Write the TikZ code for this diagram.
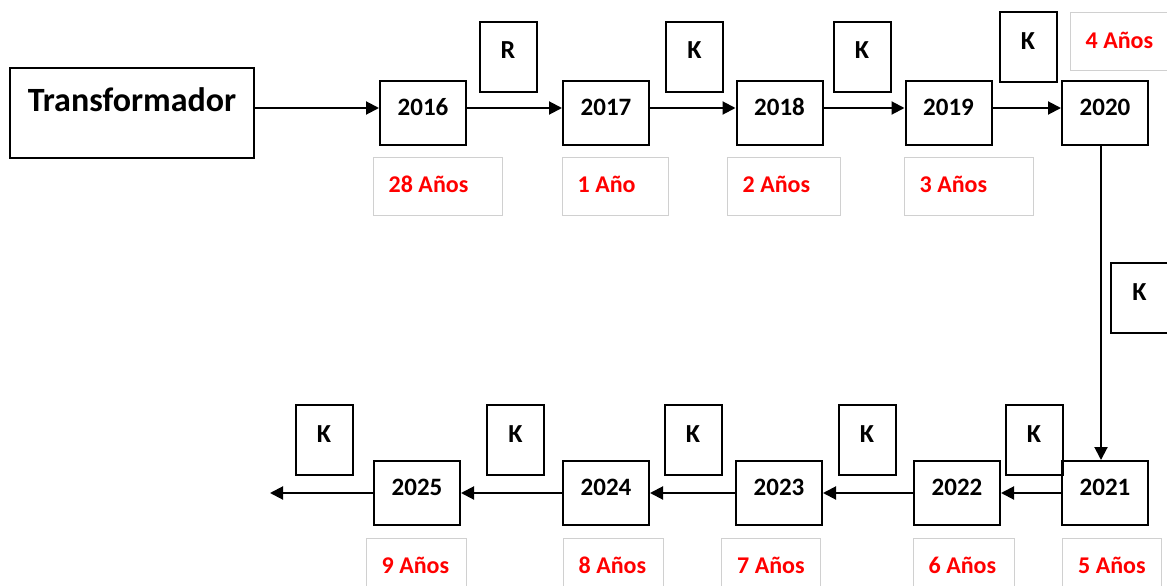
\documentclass[tikz,border=0pt]{standalone}
\usepackage{fontspec}
\setmainfont{Carlito}
\usetikzlibrary{arrows.meta}
\definecolor{agegray}{RGB}{208,208,208}
\definecolor{agered}{RGB}{255,0,0}
\tikzset{
  x=1pt,y=-1pt,
  yearbox/.style={draw=black,line width=2pt,minimum width=86pt,minimum height=64pt,inner sep=0pt,text height=16pt,text depth=12pt,font=\fontsize{25}{29}\selectfont\bfseries},
  kbox/.style={draw=black,line width=2pt,minimum width=57pt,minimum height=70pt,inner sep=0pt,text height=17pt,text depth=13pt,font=\fontsize{26}{30}\selectfont\bfseries},
  agebox/.style={draw=agegray,line width=1pt,minimum height=58pt,inner sep=0pt},
  agelabel/.style={anchor=west,xshift=16pt,yshift=2pt,inner sep=0pt,text=agered,font=\fontsize{24}{28}\selectfont\bfseries},
  arr/.style={line width=2pt,-{Triangle[length=13pt,width=13pt]}}
}
\newcommand{\agenode}[4]{\node[agebox,minimum width=#3pt,label={[agelabel]west:#4}] (#1) at #2 {};}
\begin{document}
\begin{tikzpicture}
\useasboundingbox (0,0) rectangle (1167,586);
\clip (0,0) rectangle (1167,586);
% Transformador
\node[draw=black,line width=2pt,minimum width=244pt,minimum height=89pt,inner sep=0pt,
  label={[font=\fontsize{34}{40}\selectfont\bfseries,yshift=13pt]center:Transformador}] (tr) at (132,113) {};
% year boxes
\node[yearbox] (n2016) at (423,113) {2016};
\node[yearbox] (n2017) at (606,113) {2017};
\node[yearbox] (n2018) at (779.5,113) {2018};
\node[yearbox] (n2019) at (948.5,113) {2019};
\node[yearbox] (n2020) at (1105,113) {2020};
\node[yearbox] (n2021) at (1105,493) {2021};
\node[yearbox] (n2022) at (957,493) {2022};
\node[yearbox] (n2023) at (779,493) {2023};
\node[yearbox] (n2024) at (606,493) {2024};
\node[yearbox] (n2025) at (417,493) {2025};
% K / R boxes
\node[kbox] (r1) at (508,57) {R};
\node[kbox] (k1) at (694.5,57) {K};
\node[kbox] (k2) at (862,57) {K};
\node[kbox] (k3) at (1028,47) {K};
\node[kbox] (k4) at (1139.5,298) {K};
\node[kbox] (k5) at (1034,440) {K};
\node[kbox] (k6) at (867,440) {K};
\node[kbox] (k7) at (693,440) {K};
\node[kbox] (k8) at (515.5,440) {K};
\node[kbox] (k9) at (324,440) {K};
% age boxes
\agenode{a28}{(437.5,186)}{129}{28 Años}
\agenode{a1}{(615,186)}{106}{1 Año}
\agenode{a2}{(783.5,186)}{113}{2 Años}
\agenode{a3}{(968.5,186)}{129}{3 Años}
\agenode{a4}{(1125,42)}{110}{4 Años}
\agenode{a5}{(1112,567)}{99}{5 Años}
\agenode{a6}{(963.5,567)}{101}{6 Años}
\agenode{a7}{(771,567)}{99}{7 Años}
\agenode{a8}{(613,567)}{100}{8 Años}
\agenode{a9}{(416,567)}{100}{9 Años}
% connectors
\coordinate (end) at (270,493);
\draw[arr] ([yshift=5pt]tr.east) -- ([yshift=5pt]n2016.west);
\draw[arr] ([yshift=5pt]n2016.east) -- ([yshift=5pt]n2017.west);
\draw[arr] ([yshift=5pt]n2017.east) -- ([yshift=5pt]n2018.west);
\draw[arr] ([yshift=5pt]n2018.east) -- ([yshift=5pt]n2019.west);
\draw[arr] ([yshift=5pt]n2019.east) -- ([yshift=5pt]n2020.west);
\draw[arr] ([xshift=-4pt]n2020.south) -- ([xshift=-4pt]n2021.north);
\draw[arr] (n2021) -- (n2022);
\draw[arr] (n2022) -- (n2023);
\draw[arr] (n2023) -- (n2024);
\draw[arr] (n2024) -- (n2025);
\draw[arr] (n2025) -- (end);
\end{tikzpicture}
\end{document}
